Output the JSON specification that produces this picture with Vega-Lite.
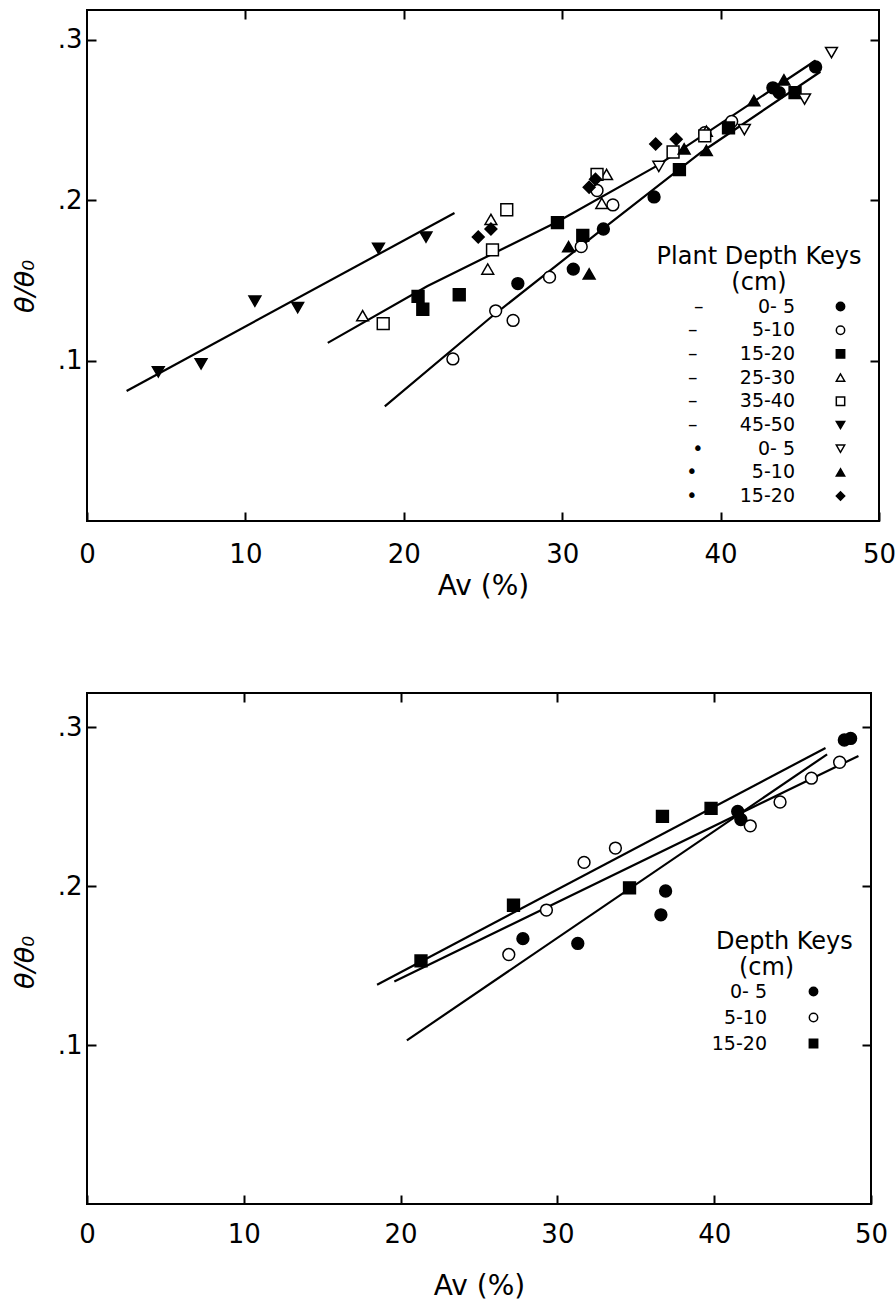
{
  "$schema": "https://vega.github.io/schema/vega-lite/v6.json",
  "background": "white",
  "padding": {"left": 10, "top": 8, "right": 4, "bottom": 4},
  "bounds": "flush",
  "spacing": 172,
  "config": {
    "font": "DejaVu Sans",
    "view": {"stroke": "black", "strokeWidth": 2},
    "axis": {
      "domain": false,
      "grid": false,
      "ticks": true,
      "tickColor": "black",
      "tickWidth": 2,
      "tickSize": -9,
      "labelColor": "black",
      "labelFont": "DejaVu Sans",
      "labelFontSize": 26,
      "labelFlush": false,
      "titleColor": "black",
      "titleFont": "DejaVu Sans",
      "titleFontSize": 28,
      "titleFontWeight": "normal"
    },
    "legend": {
      "labelFont": "DejaVu Sans",
      "titleFont": "DejaVu Sans",
      "labelColor": "black",
      "titleColor": "black",
      "titleLimit": 400,
      "padding": 0
    }
  },
  "resolve": {
    "scale": {"x": "independent", "y": "independent", "shape": "independent", "fill": "independent"},
    "legend": {"shape": "independent", "fill": "independent"}
  },
  "vconcat": [
    {
      "width": 792,
      "height": 511,
      "resolve": {"axis": {"x": "independent", "y": "independent"}},
      "layer": [
        {
          "data": {
            "values": [
              {"line": "L1", "av": 2.5, "theta": 0.081},
              {"line": "L1", "av": 23.2, "theta": 0.192},
              {"line": "L2", "av": 15.2, "theta": 0.111},
              {"line": "L2", "av": 21.5, "theta": 0.1465},
              {"line": "L2", "av": 29.7, "theta": 0.1865},
              {"line": "L2", "av": 36.0, "theta": 0.2215},
              {"line": "L2", "av": 46.0, "theta": 0.287},
              {"line": "L3", "av": 18.8, "theta": 0.0715},
              {"line": "L3", "av": 25.5, "theta": 0.127},
              {"line": "L3", "av": 32.3, "theta": 0.18},
              {"line": "L3", "av": 38.8, "theta": 0.23},
              {"line": "L3", "av": 46.3, "theta": 0.28}
            ]
          },
          "mark": {"type": "line", "color": "black", "strokeWidth": 2.2},
          "encoding": {
            "x": {"field": "av", "type": "quantitative", "scale": {"domain": [0, 50], "nice": false},
                  "axis": {"orient": "top", "labels": false, "title": null, "values": [10, 20, 30, 40]}},
            "y": {"field": "theta", "type": "quantitative", "scale": {"domain": [0, 0.3185], "nice": false, "zero": false},
                  "axis": {"orient": "right", "labels": false, "title": null, "values": [0.1, 0.2, 0.3]}},
            "detail": {"field": "line"}
          }
        },
        {
          "data": {
            "values": [
              {"key": "A 0- 5", "av": 27.2, "theta": 0.148},
              {"key": "A 0- 5", "av": 30.7, "theta": 0.157},
              {"key": "A 0- 5", "av": 32.6, "theta": 0.182},
              {"key": "A 0- 5", "av": 35.8, "theta": 0.202},
              {"key": "A 0- 5", "av": 43.3, "theta": 0.27},
              {"key": "A 0- 5", "av": 43.7, "theta": 0.267},
              {"key": "A 0- 5", "av": 46.0, "theta": 0.283},
              {"key": "A 5-10", "av": 23.1, "theta": 0.101},
              {"key": "A 5-10", "av": 25.8, "theta": 0.131},
              {"key": "A 5-10", "av": 26.9, "theta": 0.125},
              {"key": "A 5-10", "av": 29.2, "theta": 0.152},
              {"key": "A 5-10", "av": 31.2, "theta": 0.171},
              {"key": "A 5-10", "av": 32.2, "theta": 0.206},
              {"key": "A 5-10", "av": 33.2, "theta": 0.197},
              {"key": "A 5-10", "av": 39.0, "theta": 0.242},
              {"key": "A 5-10", "av": 40.7, "theta": 0.249},
              {"key": "A 15-20", "av": 20.9, "theta": 0.14},
              {"key": "A 15-20", "av": 21.2, "theta": 0.132},
              {"key": "A 15-20", "av": 23.5, "theta": 0.141},
              {"key": "A 15-20", "av": 29.7, "theta": 0.186},
              {"key": "A 15-20", "av": 31.3, "theta": 0.178},
              {"key": "A 15-20", "av": 37.4, "theta": 0.219},
              {"key": "A 15-20", "av": 40.5, "theta": 0.245},
              {"key": "A 15-20", "av": 44.7, "theta": 0.267},
              {"key": "A 25-30", "av": 17.4, "theta": 0.128},
              {"key": "A 25-30", "av": 25.3, "theta": 0.157},
              {"key": "A 25-30", "av": 25.5, "theta": 0.188},
              {"key": "A 25-30", "av": 32.5, "theta": 0.198},
              {"key": "A 25-30", "av": 32.8, "theta": 0.216},
              {"key": "A 25-30", "av": 39.1, "theta": 0.243},
              {"key": "A 35-40", "av": 18.7, "theta": 0.123},
              {"key": "A 35-40", "av": 25.6, "theta": 0.169},
              {"key": "A 35-40", "av": 26.5, "theta": 0.194},
              {"key": "A 35-40", "av": 32.2, "theta": 0.216},
              {"key": "A 35-40", "av": 37.0, "theta": 0.23},
              {"key": "A 35-40", "av": 39.0, "theta": 0.24},
              {"key": "A 45-50", "av": 4.5, "theta": 0.093},
              {"key": "A 45-50", "av": 7.2, "theta": 0.098},
              {"key": "A 45-50", "av": 10.6, "theta": 0.137},
              {"key": "A 45-50", "av": 13.3, "theta": 0.133},
              {"key": "A 45-50", "av": 18.4, "theta": 0.17},
              {"key": "A 45-50", "av": 21.4, "theta": 0.177},
              {"key": "B 0- 5", "av": 36.1, "theta": 0.221},
              {"key": "B 0- 5", "av": 41.5, "theta": 0.244},
              {"key": "B 0- 5", "av": 45.3, "theta": 0.263},
              {"key": "B 0- 5", "av": 47.0, "theta": 0.292},
              {"key": "B 5-10", "av": 30.4, "theta": 0.171},
              {"key": "B 5-10", "av": 31.7, "theta": 0.154},
              {"key": "B 5-10", "av": 37.7, "theta": 0.232},
              {"key": "B 5-10", "av": 39.1, "theta": 0.231},
              {"key": "B 5-10", "av": 42.1, "theta": 0.262},
              {"key": "B 5-10", "av": 44.0, "theta": 0.275},
              {"key": "B 15-20", "av": 24.7, "theta": 0.177},
              {"key": "B 15-20", "av": 25.5, "theta": 0.182},
              {"key": "B 15-20", "av": 31.7, "theta": 0.208},
              {"key": "B 15-20", "av": 32.1, "theta": 0.213},
              {"key": "B 15-20", "av": 35.9, "theta": 0.235},
              {"key": "B 15-20", "av": 37.2, "theta": 0.238}
            ]
          },
          "mark": {"type": "point", "filled": true, "stroke": "black", "strokeWidth": 1.5, "opacity": 1, "size": 140},
          "encoding": {
            "x": {"field": "av", "type": "quantitative", "scale": {"domain": [0, 50], "nice": false},
                  "axis": {"orient": "bottom", "title": "Av (%)", "values": [0, 10, 20, 30, 40, 50], "labelPadding": 29, "titlePadding": 5,
                           "encode": {"labels": {"update": {"dx": {"signal": "datum.value === 0 ? -22 : 0"}}}}}},
            "y": {"field": "theta", "type": "quantitative", "scale": {"domain": [0, 0.3185], "nice": false, "zero": false},
                  "axis": {"orient": "left", "title": "θ/θ₀", "titleFontStyle": "italic", "titleFontSize": 27, "values": [0.1, 0.2, 0.3], "labelPadding": 14,
                           "labelExpr": "replace(format(datum.value, '.1f'), '0.', '.')", "titleX": -62, "titleY": 276, "titleBaseline": "middle"}},
            "shape": {
              "field": "key", "type": "nominal",
              "scale": {
                "domain": ["A 0- 5", "A 5-10", "A 15-20", "A 25-30", "A 35-40", "A 45-50", "B 0- 5", "B 5-10", "B 15-20"],
                "range": ["circle", "circle", "square", "triangle-up", "square", "triangle-down", "triangle-down", "triangle-up", "diamond"]
              },
              "legend": {
                "orient": "none", "legendX": 570, "legendY": 235,
                "title": ["Plant Depth Keys", "(cm)"],
                "titleFontSize": 24, "titleFontWeight": "normal", "titleAlign": "center", "titleAnchor": "middle", "titleLineHeight": 26, "titlePadding": 2,
                "labelFontSize": 19, "labelAlign": "right", "labelOffset": -55, "symbolOffset": 161, "symbolSize": 70,
                "rowPadding": 3.7, "labelLimit": 300,
                "labelExpr": "(indexof(datum.label, 'A') == 0 ? '–' : '•') + '\u00a0\u2007\u2007\u2007' + (length(datum.label) < 7 ? '\u2007' : '') + substring(datum.label, 2)",
                "encode": {"symbols": {"update": {"stroke": {"value": "black"}, "strokeWidth": {"value": 1.5}}}}
              }
            },
            "fill": {
              "field": "key", "type": "nominal",
              "scale": {
                "domain": ["A 0- 5", "A 5-10", "A 15-20", "A 25-30", "A 35-40", "A 45-50", "B 0- 5", "B 5-10", "B 15-20"],
                "range": ["black", "white", "black", "white", "white", "black", "white", "black", "black"]
              },
              "legend": {
                "orient": "none", "legendX": 570, "legendY": 235,
                "title": ["Plant Depth Keys", "(cm)"],
                "titleFontSize": 24, "titleFontWeight": "normal", "titleAlign": "center", "titleAnchor": "middle", "titleLineHeight": 26, "titlePadding": 2,
                "labelFontSize": 19, "labelAlign": "right", "labelOffset": -55, "symbolOffset": 161, "symbolSize": 70,
                "rowPadding": 3.7, "labelLimit": 300,
                "labelExpr": "(indexof(datum.label, 'A') == 0 ? '–' : '•') + '\u00a0\u2007\u2007\u2007' + (length(datum.label) < 7 ? '\u2007' : '') + substring(datum.label, 2)",
                "encode": {"symbols": {"update": {"stroke": {"value": "black"}, "strokeWidth": {"value": 1.5}}}}
              }
            }
          }
        }
      ]
    },
    {
      "width": 784,
      "height": 511,
      "resolve": {"axis": {"x": "independent", "y": "independent"}},
      "layer": [
        {
          "data": {
            "values": [
              {"line": "U", "av": 18.5, "theta": 0.138},
              {"line": "U", "av": 47.1, "theta": 0.287},
              {"line": "M", "av": 19.6, "theta": 0.14},
              {"line": "M", "av": 49.2, "theta": 0.282},
              {"line": "Lw", "av": 20.4, "theta": 0.103},
              {"line": "Lw", "av": 47.2, "theta": 0.283}
            ]
          },
          "mark": {"type": "line", "color": "black", "strokeWidth": 2.2},
          "encoding": {
            "x": {"field": "av", "type": "quantitative", "scale": {"domain": [0, 50], "nice": false},
                  "axis": {"orient": "top", "labels": false, "title": null, "values": [10, 20, 30, 40]}},
            "y": {"field": "theta", "type": "quantitative", "scale": {"domain": [0, 0.3216], "nice": false, "zero": false},
                  "axis": {"orient": "right", "labels": false, "title": null, "values": [0.1, 0.2, 0.3]}},
            "detail": {"field": "line"}
          }
        },
        {
          "data": {
            "values": [
              {"depth": "0- 5", "av": 27.8, "theta": 0.167},
              {"depth": "0- 5", "av": 31.3, "theta": 0.164},
              {"depth": "0- 5", "av": 36.6, "theta": 0.182},
              {"depth": "0- 5", "av": 36.9, "theta": 0.197},
              {"depth": "0- 5", "av": 41.5, "theta": 0.247},
              {"depth": "0- 5", "av": 41.7, "theta": 0.242},
              {"depth": "0- 5", "av": 48.3, "theta": 0.292},
              {"depth": "0- 5", "av": 48.7, "theta": 0.293},
              {"depth": "5-10", "av": 26.9, "theta": 0.157},
              {"depth": "5-10", "av": 29.3, "theta": 0.185},
              {"depth": "5-10", "av": 31.7, "theta": 0.215},
              {"depth": "5-10", "av": 33.7, "theta": 0.224},
              {"depth": "5-10", "av": 42.3, "theta": 0.238},
              {"depth": "5-10", "av": 44.2, "theta": 0.253},
              {"depth": "5-10", "av": 46.2, "theta": 0.268},
              {"depth": "5-10", "av": 48.0, "theta": 0.278},
              {"depth": "15-20", "av": 21.3, "theta": 0.153},
              {"depth": "15-20", "av": 27.2, "theta": 0.188},
              {"depth": "15-20", "av": 34.6, "theta": 0.199},
              {"depth": "15-20", "av": 36.7, "theta": 0.244},
              {"depth": "15-20", "av": 39.8, "theta": 0.249}
            ]
          },
          "mark": {"type": "point", "filled": true, "stroke": "black", "strokeWidth": 1.5, "opacity": 1, "size": 140},
          "encoding": {
            "x": {"field": "av", "type": "quantitative", "scale": {"domain": [0, 50], "nice": false},
                  "axis": {"orient": "bottom", "title": "Av (%)", "values": [0, 10, 20, 30, 40, 50], "labelPadding": 26, "titlePadding": 25,
                           "encode": {"labels": {"update": {"dx": {"signal": "datum.value === 0 ? -22 : 0"}}}}}},
            "y": {"field": "theta", "type": "quantitative", "scale": {"domain": [0, 0.3216], "nice": false, "zero": false},
                  "axis": {"orient": "left", "title": "θ/θ₀", "titleFontStyle": "italic", "titleFontSize": 27, "values": [0.1, 0.2, 0.3], "labelPadding": 14,
                           "labelExpr": "replace(format(datum.value, '.1f'), '0.', '.')", "titleX": -62, "titleY": 269, "titleBaseline": "middle"}},
            "shape": {
              "field": "depth", "type": "nominal",
              "scale": {"domain": ["0- 5", "5-10", "15-20"], "range": ["circle", "circle", "square"]},
              "legend": {
                "orient": "none", "legendX": 629, "legendY": 237,
                "title": ["Depth Keys", "\u200b\u2007\u00a0(cm)"],
                "titleFontSize": 24, "titleFontWeight": "normal", "titleAlign": "left", "titleLineHeight": 26, "titlePadding": 2,
                "labelFontSize": 19, "labelAlign": "right", "labelOffset": -56, "symbolOffset": 88, "symbolSize": 70,
                "rowPadding": 6,
                "encode": {"symbols": {"update": {"stroke": {"value": "black"}, "strokeWidth": {"value": 1.5}}}}
              }
            },
            "fill": {
              "field": "depth", "type": "nominal",
              "scale": {"domain": ["0- 5", "5-10", "15-20"], "range": ["black", "white", "black"]},
              "legend": {
                "orient": "none", "legendX": 629, "legendY": 237,
                "title": ["Depth Keys", "\u200b\u2007\u00a0(cm)"],
                "titleFontSize": 24, "titleFontWeight": "normal", "titleAlign": "left", "titleLineHeight": 26, "titlePadding": 2,
                "labelFontSize": 19, "labelAlign": "right", "labelOffset": -56, "symbolOffset": 88, "symbolSize": 70,
                "rowPadding": 6,
                "encode": {"symbols": {"update": {"stroke": {"value": "black"}, "strokeWidth": {"value": 1.5}}}}
              }
            }
          }
        }
      ]
    }
  ]
}
